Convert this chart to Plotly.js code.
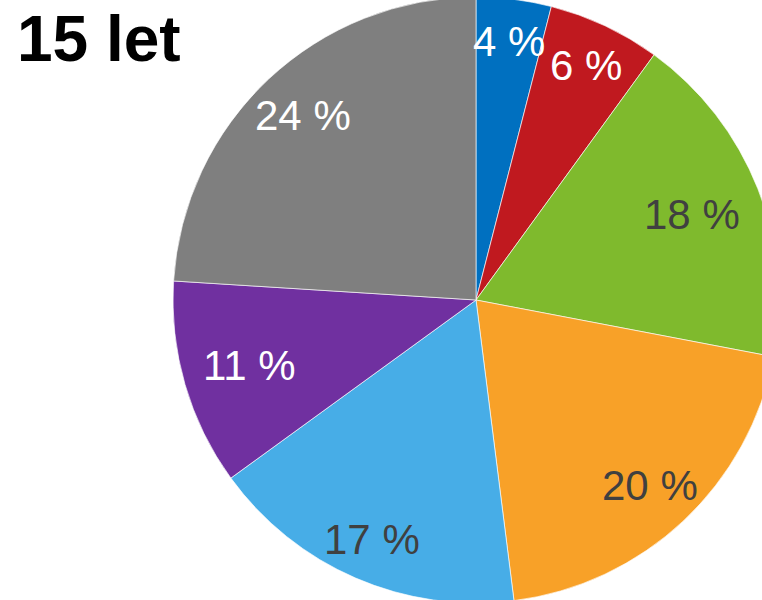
<!DOCTYPE html>
<html>
<head>
<meta charset="utf-8">
<script src="https://cdn.plot.ly/plotly-3.0.1.min.js"></script>
<style>
html, body { margin: 0; padding: 0; overflow: hidden; width: 762px; height: 600px; background: #fff; }
#chart { position: absolute; left: 0; top: -3px; width: 779px; height: 606px; }
</style>
</head>
<body>
<div id="chart"></div>
<script>
const categories = ["A", "B", "C", "D", "E", "F", "G"];
const shares = [4, 6, 18, 20, 17, 11, 24];
const sliceColors = ["#0070C0", "#C0191F", "#7FBA2D", "#F8A128", "#47ADE7", "#7030A0", "#7F7F7F"];
const labelColors = ["#FFFFFF", "#FFFFFF", "#404040", "#404040", "#404040", "#FFFFFF", "#FFFFFF"];
const labelRadius = [0.861, 0.855, 0.767, 0.840, 0.863, 0.777, 0.835];
const chartTitle = "15 let";

const W = 779, H = 606, L = 173;
const FONT = "Liberation Sans, Arial, sans-serif";

const trace = {
  type: "pie",
  labels: categories,
  values: shares,
  textinfo: "none",
  sort: false,
  direction: "clockwise",
  rotation: 0,
  hoverinfo: "none",
  marker: { colors: sliceColors, line: { color: "rgba(255,255,255,0.8)", width: 0.8 } },
  domain: { x: [0, 1], y: [0, 1] }
};

// label annotations placed on each slice's mid-angle (derived from the data)
const total = shares.reduce((a, b) => a + b, 0);
let cum = 0;
const annotations = shares.map((v, i) => {
  const mid = (cum + v / 2) / total * 2 * Math.PI;
  cum += v;
  const rFrac = labelRadius[i] * 0.5; // pie radius = half the square plot area
  return {
    xref: "paper", yref: "paper",
    x: 0.5 + rFrac * Math.sin(mid),
    y: 0.5 + rFrac * Math.cos(mid),
    xanchor: "center", yanchor: "middle",
    text: v + " %",
    showarrow: false,
    font: { family: FONT, size: 42, color: labelColors[i] }
  };
});

const layout = {
  width: W, height: H,
  margin: { l: L, r: 0, t: 0, b: 0, pad: 0 },
  showlegend: false,
  paper_bgcolor: "rgba(0,0,0,0)",
  plot_bgcolor: "rgba(0,0,0,0)",
  annotations: annotations,
  title: {
    text: "<b>" + chartTitle + "</b>",
    xref: "container", yref: "container",
    x: 17 / W, xanchor: "left",
    y: 1 - 42 / H, yanchor: "middle",
    font: { family: FONT, size: 64, color: "#000000" }
  }
};

Plotly.newPlot("chart", [trace], layout, { staticPlot: true, displayModeBar: false });
</script>
</body>
</html>
